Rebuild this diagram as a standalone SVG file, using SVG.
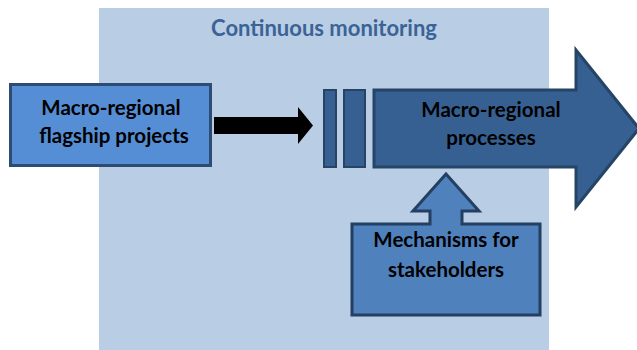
<svg xmlns="http://www.w3.org/2000/svg" width="637" height="350" viewBox="0 0 637 350">
  <style>
    .lbl { font-family: Lato, "Open Sans", "Liberation Sans", sans-serif; font-weight: bold; font-size: 20.5px; fill: #000; text-anchor: middle; }
    .title { font-family: Lato, "Open Sans", "Liberation Sans", sans-serif; font-weight: bold; font-size: 22px; fill: #3A6396; text-anchor: middle; }
    .edge { stroke-width: 3; stroke-linejoin: miter; }
  </style>
  <rect width="637" height="350" fill="#FFFFFF"/>

  <g id="monitoring">
    <rect x="99" y="8" width="450" height="342" fill="#B9CDE5"/>
    <text class="title" x="324" y="36">Continuous monitoring</text>
  </g>

  <g id="flagship">
    <rect x="10.5" y="84.5" width="200" height="81" fill="#558ED5" stroke="#2C4C73" class="edge"/>
    <text class="lbl" x="111" y="114.5">Macro-regional</text>
    <text class="lbl" x="114" y="142.5">flagship projects</text>
  </g>

  <g id="connectors">
    <polygon points="214,117 298,117 298,107 313,125.5 298,144 298,134 214,134" fill="#000000"/>
  </g>

  <g id="processes">
    <rect x="324" y="90" width="12" height="77" fill="#376092" stroke="#254466" stroke-width="2"/>
    <rect x="344" y="90" width="21" height="77" fill="#376092" stroke="#254466" stroke-width="2"/>
    <polygon points="374,90 576,90 576,50 639,128.5 576,207 576,167 374,167" fill="#376092" stroke="#254466" class="edge"/>
    <text class="lbl" x="491" y="116.5">Macro-regional</text>
    <text class="lbl" x="491" y="145">processes</text>
  </g>

  <g id="stakeholders">
    <polygon points="352,315 352,224 430,224 430,211 413,211 446,174 479,211 462,211 462,224 540,224 540,315" fill="#4F81BD" stroke="#233F62" class="edge"/>
    <text class="lbl" x="446" y="247">Mechanisms for</text>
    <text class="lbl" x="446" y="277">stakeholders</text>
  </g>
</svg>
